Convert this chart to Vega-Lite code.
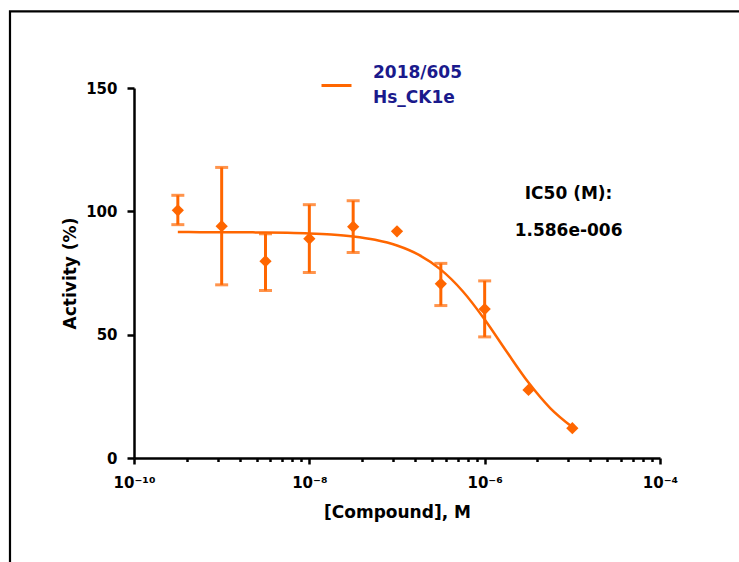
{
  "$schema": "https://vega.github.io/schema/vega-lite/v6.json",
  "width": 526,
  "height": 370,
  "autosize": {"type": "none"},
  "padding": {"left": 134, "top": 88, "right": 79, "bottom": 104},
  "background": "white",
  "config": {"view": {"stroke": null}, "font": "DejaVu Sans", "style": {"guide-label": {"lineHeight": 25}}},
  "datasets": {
    "points": [
      {"conc": 3.162e-10, "activity": 100.4, "lo": 94.6, "hi": 106.5},
      {"conc": 1e-9, "activity": 94.0, "lo": 70.2, "hi": 117.8},
      {"conc": 3.162e-9, "activity": 79.8, "lo": 67.9, "hi": 90.9},
      {"conc": 1e-8, "activity": 88.9, "lo": 75.2, "hi": 102.7},
      {"conc": 3.162e-8, "activity": 93.8, "lo": 83.3, "hi": 104.3},
      {"conc": 1e-7, "activity": 91.9},
      {"conc": 3.162e-7, "activity": 70.6, "lo": 61.8, "hi": 78.9},
      {"conc": 1e-6, "activity": 60.4, "lo": 49.1, "hi": 71.8},
      {"conc": 3.162e-6, "activity": 27.6},
      {"conc": 1e-5, "activity": 12.1}
    ],
    "curve": [
      {"conc": 3.162e-10, "fit": 91.58, "series": "2018/605 Hs_CK1e"},
      {"conc": 5.623e-10, "fit": 91.57, "series": "2018/605 Hs_CK1e"},
      {"conc": 1e-9, "fit": 91.54, "series": "2018/605 Hs_CK1e"},
      {"conc": 1.778e-9, "fit": 91.5, "series": "2018/605 Hs_CK1e"},
      {"conc": 3.162e-9, "fit": 91.42, "series": "2018/605 Hs_CK1e"},
      {"conc": 5.623e-9, "fit": 91.28, "series": "2018/605 Hs_CK1e"},
      {"conc": 1e-8, "fit": 91.03, "series": "2018/605 Hs_CK1e"},
      {"conc": 1.778e-8, "fit": 90.59, "series": "2018/605 Hs_CK1e"},
      {"conc": 3.162e-8, "fit": 89.81, "series": "2018/605 Hs_CK1e"},
      {"conc": 5.623e-8, "fit": 88.46, "series": "2018/605 Hs_CK1e"},
      {"conc": 1e-7, "fit": 86.16, "series": "2018/605 Hs_CK1e"},
      {"conc": 1.778e-7, "fit": 82.36, "series": "2018/605 Hs_CK1e"},
      {"conc": 3.162e-7, "fit": 76.37, "series": "2018/605 Hs_CK1e"},
      {"conc": 5.623e-7, "fit": 67.61, "series": "2018/605 Hs_CK1e"},
      {"conc": 1e-6, "fit": 56.16, "series": "2018/605 Hs_CK1e"},
      {"conc": 1.778e-6, "fit": 43.17, "series": "2018/605 Hs_CK1e"},
      {"conc": 3.162e-6, "fit": 30.58, "series": "2018/605 Hs_CK1e"},
      {"conc": 5.623e-6, "fit": 20.14, "series": "2018/605 Hs_CK1e"},
      {"conc": 1e-5, "fit": 12.53, "series": "2018/605 Hs_CK1e"}
    ],
    "note": [{"text": "IC50 (M):\n1.586e-006"}],
    "frame": [{"label": "frame"}]
  },
  "resolve": {"axis": {"x": "independent"}},
  "layer": [
    {
      "data": {"name": "frame"},
      "mark": {"type": "rect", "filled": false, "stroke": "black", "strokeWidth": 2.2, "clip": false},
      "encoding": {
        "x": {"datum": 3.85e-12, "type": "quantitative", "scale": {"type": "log", "domain": [1e-10, 1e-4], "nice": false}, "axis": null},
        "x2": {"datum": 1e-2},
        "y": {"datum": -50, "type": "quantitative", "scale": {"domain": [0, 150], "nice": false, "zero": false}, "title": "Activity (%)"},
        "y2": {"datum": 181.1}
      }
    },
    {
      "data": {"name": "curve"},
      "mark": {"type": "line", "strokeWidth": 2.5, "interpolate": "monotone"},
      "encoding": {
        "x": {"field": "conc", "type": "quantitative", "scale": {"type": "log", "domain": [1e-10, 1e-4], "nice": false}, "axis": null},
        "y": {"field": "fit", "type": "quantitative", "scale": {"domain": [0, 150], "nice": false, "zero": false}, "title": "Activity (%)"},
        "color": {
          "field": "series",
          "type": "nominal",
          "scale": {"range": ["#FF6600"]},
          "legend": {
            "orient": "none",
            "legendX": 186,
            "legendY": -19,
            "title": null,
            "padding": 0,
            "symbolType": "stroke",
            "symbolSize": 900,
            "symbolStrokeWidth": 3,
            "labelOffset": 20,
            "labelBaseline": "line-bottom",
            "labelFont": "DejaVu Sans",
            "labelFontSize": 17,
            "labelFontWeight": "bold",
            "labelColor": "#1a1a8c",
            "labelLimit": 0,
            "labelExpr": "split(datum.label, ' ')"
          }
        }
      }
    },
    {
      "data": {"name": "points"},
      "mark": {"type": "rule", "strokeWidth": 3, "color": "#FF6600"},
      "encoding": {
        "x": {"field": "conc", "type": "quantitative", "scale": {"type": "log", "domain": [1e-10, 1e-4], "nice": false}, "axis": null},
        "y": {"field": "lo", "type": "quantitative", "scale": {"domain": [0, 150], "nice": false, "zero": false}, "title": "Activity (%)"},
        "y2": {"field": "hi"}
      }
    },
    {
      "data": {"name": "points"},
      "mark": {"type": "tick", "orient": "horizontal", "size": 13, "thickness": 3, "color": "#FF6600"},
      "encoding": {
        "x": {"field": "conc", "type": "quantitative", "scale": {"type": "log", "domain": [1e-10, 1e-4], "nice": false}, "axis": null},
        "y": {"field": "lo", "type": "quantitative", "scale": {"domain": [0, 150], "nice": false, "zero": false}, "title": "Activity (%)"}
      }
    },
    {
      "data": {"name": "points"},
      "mark": {"type": "tick", "orient": "horizontal", "size": 13, "thickness": 3, "color": "#FF6600"},
      "encoding": {
        "x": {"field": "conc", "type": "quantitative", "scale": {"type": "log", "domain": [1e-10, 1e-4], "nice": false}, "axis": null},
        "y": {"field": "hi", "type": "quantitative", "scale": {"domain": [0, 150], "nice": false, "zero": false}, "title": "Activity (%)"}
      }
    },
    {
      "data": {"name": "points"},
      "mark": {"type": "point", "shape": "diamond", "filled": true, "size": 150, "opacity": 1, "color": "#FF6600"},
      "encoding": {
        "x": {
          "field": "conc",
          "type": "quantitative",
          "scale": {"type": "log", "domain": [1e-10, 1e-4], "nice": false},
          "axis": {
            "orient": "bottom",
            "values": [1e-10, 1e-8, 1e-6, 1e-4],
            "labelExpr": "datum.value < 1e-9 ? '10⁻¹⁰' : datum.value < 1e-7 ? '10⁻⁸' : datum.value < 1e-5 ? '10⁻⁶' : '10⁻⁴'",
            "title": "[Compound], M",
            "grid": false,
            "domainColor": "black",
            "domainWidth": 2.5,
            "tickColor": "black",
            "tickWidth": 2.5,
            "tickSize": 6,
            "labelFont": "DejaVu Sans",
            "labelFontSize": 15,
            "labelFontWeight": "bold",
            "labelColor": "black",
            "labelPadding": 11,
            "labelFlush": false,
            "labelOverlap": false,
            "titleFont": "DejaVu Sans",
            "titleFontSize": 17,
            "titleFontWeight": "bold",
            "titleColor": "black",
            "titlePadding": 14
          }
        },
        "y": {
          "field": "activity",
          "type": "quantitative",
          "scale": {"domain": [0, 150], "nice": false, "zero": false},
          "title": "Activity (%)",
          "axis": {
            "values": [0, 50, 100, 150],
            "grid": false,
            "domainColor": "black",
            "domainWidth": 2.5,
            "tickColor": "black",
            "tickWidth": 2.5,
            "tickSize": 7,
            "labelFont": "DejaVu Sans",
            "labelFontSize": 15,
            "labelFontWeight": "bold",
            "labelColor": "black",
            "labelPadding": 10,
            "titleFont": "DejaVu Sans",
            "titleFontSize": 17,
            "titleFontWeight": "bold",
            "titleColor": "black",
            "titlePadding": 6
          }
        }
      }
    },
    {
      "data": {"name": "points"},
      "mark": {"type": "point", "opacity": 0},
      "encoding": {
        "x": {
          "field": "conc",
          "type": "quantitative",
          "scale": {"type": "log", "domain": [1e-10, 1e-4], "nice": false},
          "axis": {
            "orient": "bottom",
            "values": [4e-10, 9e-10, 1.6e-9, 2.5e-9, 3.6e-9, 4.9e-9, 6.4e-9, 8.1e-9, 4e-8, 9e-8, 1.6e-7, 2.5e-7, 3.6e-7, 4.9e-7, 6.4e-7, 8.1e-7, 4e-6, 9e-6, 1.6e-5, 2.5e-5, 3.6e-5, 4.9e-5, 6.4e-5, 8.1e-5],
            "labels": false,
            "domain": false,
            "grid": false,
            "title": null,
            "tickColor": "black",
            "tickWidth": 2.5,
            "tickSize": 3.5
          }
        },
        "y": {"field": "activity", "type": "quantitative", "scale": {"domain": [0, 150], "nice": false, "zero": false}, "title": "Activity (%)"}
      }
    },
    {
      "data": {"name": "note"},
      "mark": {"type": "text", "font": "DejaVu Sans", "fontSize": 17, "fontWeight": "bold", "color": "black", "lineBreak": "\n", "lineHeight": 37, "align": "center", "baseline": "middle"},
      "encoding": {
        "x": {"datum": 9.06e-6, "type": "quantitative", "scale": {"type": "log", "domain": [1e-10, 1e-4], "nice": false}, "axis": null},
        "y": {"datum": 107.2, "type": "quantitative", "scale": {"domain": [0, 150], "nice": false, "zero": false}, "title": "Activity (%)"},
        "text": {"field": "text"}
      }
    }
  ]
}
